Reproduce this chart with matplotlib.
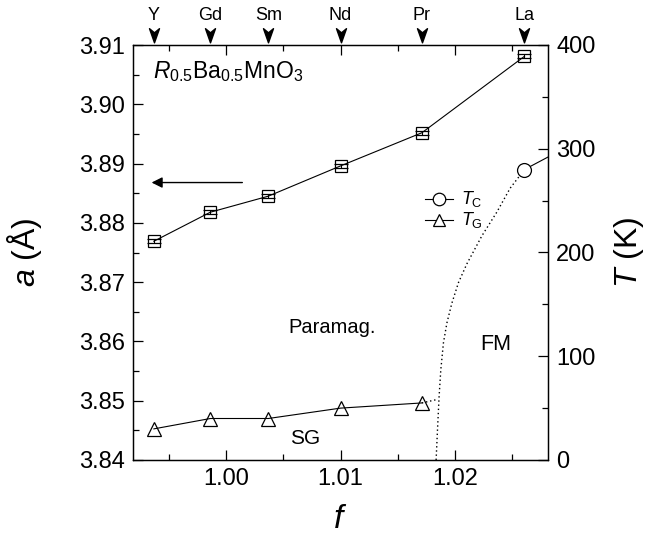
import numpy as np
import matplotlib
matplotlib.use("Agg")
import matplotlib.pyplot as plt
from matplotlib.path import Path
from matplotlib.transforms import blended_transform_factory

plt.rcParams['font.family'] = ['Liberation Sans', 'DejaVu Sans']
plt.rcParams['mathtext.fontset'] = 'custom'
plt.rcParams['mathtext.rm'] = 'Liberation Sans'
plt.rcParams['mathtext.it'] = 'Liberation Sans:italic'

# data
elements = ['Y', 'Gd', 'Sm', 'Nd', 'Pr', 'La']
f_vals = [0.99372, 0.99865, 1.00370, 1.01000, 1.01710, 1.02605]
a_vals = [3.8769, 3.8818, 3.8845, 3.8896, 3.8952, 3.9081]
a_err = [0.0003, 0.0003, 0.0003, 0.0003, 0.0003, 0.0003]
tg_f = [0.99372, 0.99865, 1.00370, 1.01000, 1.01710]
tg_vals = [30, 40, 40, 50, 55]
tc_f = [1.02605]
tc_vals = [280]
# T_C boundary (solid above La, dotted guide below)
tc_solid_f = [1.02605, 1.0281]
tc_solid_T = [280, 292]
tc_dot_f = [1.01834, 1.01846, 1.01860, 1.01875, 1.01898, 1.01928, 1.01971, 1.02029,
            1.02102, 1.02175, 1.02233, 1.02364, 1.02480, 1.02605]
tc_dot_T = [0, 29, 61, 87, 113, 132, 151, 171, 189, 204, 216, 239, 262, 280]
tg_dot_f = [1.01710, 1.01830]
tg_dot_T = [55, 58]

fig = plt.figure(figsize=(6.64, 5.4), dpi=100)
ax = fig.add_axes([133/664, 80/540, 415/664, 415/540])
ax2 = ax.twinx()

lw = 0.8
ax.errorbar(f_vals, a_vals, yerr=a_err, color='k', lw=lw, marker='s', ms=9,
            mfc='none', mec='k', mew=0.9, capsize=4.8, elinewidth=0.8, capthick=0.9)

ax2.plot(tg_f, tg_vals, color='k', lw=lw, marker='^', ms=10, mfc='none', mew=0.9)
ax2.plot(tc_solid_f, tc_solid_T, color='k', lw=lw)
ax2.plot(tc_dot_f, tc_dot_T, color='k', lw=1.0, ls=(0, (1, 2)))
ax2.plot(tg_dot_f, tg_dot_T, color='k', lw=1.0, ls=(0, (1, 2)))
ax2.plot(tc_f, tc_vals, color='k', lw=0, marker='o', ms=10, mfc='white', mew=0.9)

ax.set_xlim(0.9919, 1.0281)
ax.set_ylim(3.84, 3.91)
ax2.set_ylim(0, 400)

ax.set_xticks([1.00, 1.01, 1.02])
ax.set_xticklabels(['1.00', '1.01', '1.02'])
ax.set_xticks(np.arange(0.995, 1.0281, 0.005), minor=True)
ax.set_yticks(np.arange(3.84, 3.9101, 0.01))
ax.set_yticklabels(['%.2f' % v for v in np.arange(3.84, 3.9101, 0.01)])
ax.set_yticks(np.arange(3.845, 3.91, 0.01), minor=True)
ax2.set_yticks([0, 100, 200, 300, 400])
ax2.set_yticks([50, 150, 250, 350], minor=True)

ax.tick_params(which='both', direction='in', top=True, labelsize=17, width=0.9, pad=6)
ax.tick_params(which='major', length=7)
ax.tick_params(which='minor', length=4)
ax2.tick_params(which='both', direction='in', labelsize=17, width=0.9, pad=6)
ax2.tick_params(which='major', length=7)
ax2.tick_params(which='minor', length=4)
for a in (ax, ax2):
    for s in a.spines.values():
        s.set_linewidth(0.9)

ax.set_xlabel(r'$f$', fontsize=24, labelpad=10)
ax.set_ylabel(r'$a$ (Å)', fontsize=23, labelpad=25)
ax2.set_ylabel(r'$T$ (K)', fontsize=23, labelpad=12)

# element markers on top
arrow = Path([(0, -1), (-0.6, 0.7), (0, 0.2), (0.6, 0.7), (0, -1)],
             [Path.MOVETO, Path.LINETO, Path.LINETO, Path.LINETO, Path.CLOSEPOLY])
tr = blended_transform_factory(ax.transData, ax.transAxes)
for el, fv in zip(elements, f_vals):
    ax.plot([fv], [1.027], marker=arrow, ms=12, color='k', transform=tr, clip_on=False)
    ax.text(fv, 1.072, el, transform=tr, ha='center', va='center', fontsize=13)

ax.text(0.99363, 3.9055, r'$R_{0.5}$Ba$_{0.5}$MnO$_3$', fontsize=16.5, ha='left', va='center')
ax.text(1.00925, 3.8623, 'Paramag.', fontsize=14.5, ha='center', va='center')
ax.text(1.02358, 3.8594, 'FM', fontsize=15.5, ha='center', va='center')
ax.text(1.00689, 3.8437, 'SG', fontsize=15, ha='center', va='center')

ax.annotate('', xy=(0.99328, 3.8868), xytext=(1.00168, 3.8868),
            arrowprops=dict(arrowstyle='-|>', color='k', lw=1.0, mutation_scale=16))

# legend
ax2.plot([1.01738, 1.01983], [252, 252], color='k', lw=lw)
ax2.plot([1.0186], [252], marker='o', ms=9, mfc='white', mec='k', mew=0.9, color='k')
ax2.plot([1.01738, 1.01983], [231, 231], color='k', lw=lw)
ax2.plot([1.0186], [231], marker='^', ms=9, mfc='white', mec='k', mew=0.9, color='k')
ax2.text(1.02055, 252, r'$T_{\rm C}$', fontsize=13, ha='left', va='center')
ax2.text(1.02055, 231, r'$T_{\rm G}$', fontsize=13, ha='left', va='center')

fig.savefig('out.png', dpi=100)
